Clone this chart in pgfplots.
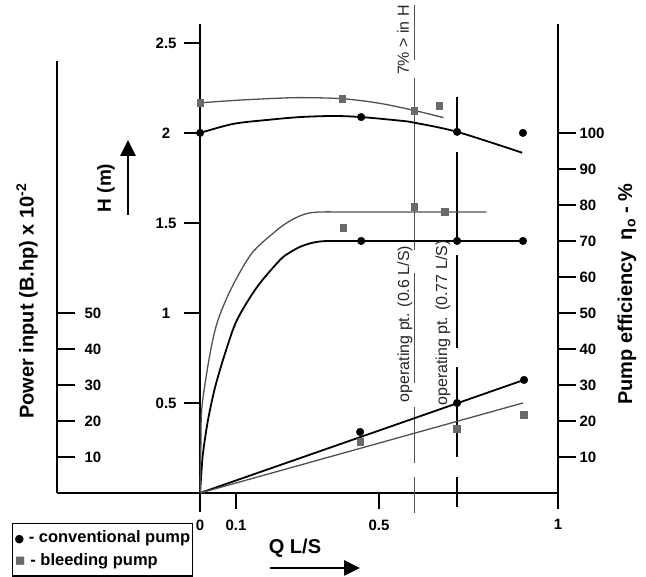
\documentclass[border=0pt]{standalone}
\usepackage{fontspec}
\setmainfont{Liberation Sans}
\newfontfamily\symfont{DejaVu Sans}
\usepackage{pgfplots}
\pgfplotsset{compat=1.18}
\usetikzlibrary{arrows.meta}
\definecolor{bleedline}{RGB}{80,80,80}
\definecolor{bleedmark}{RGB}{105,105,105}
\begin{document}
\begin{tikzpicture}
\pgfplotsset{
  base/.style={
    scale only axis, width=501pt, at={(0pt,0pt)}, anchor=south west,
    xmin=-0.4, xmax=1, ymin=0,
    /pgf/number format/assume math mode=true,
    every non boxed x axis/.append style={x axis line style={-}},
    every non boxed y axis/.append style={y axis line style={-}},
    axis line style={black, line width=1.4pt, -},
    tick style={black, line width=1.4pt},
    ticklabel style={font=\fontsize{15}{18}\selectfont\bfseries},
  },
}
% left power axis
\begin{axis}[base, height=432pt, ymax=2.4,
  axis x line=none, axis y line=left, xtick=\empty,
  ytick={0.2,0.4,0.6,0.8,1.0}, yticklabels={10,20,30,40,50},
  tick align=inside, major tick length=18pt,
  yticklabel style={anchor=west, xshift=24pt}]
\end{axis}
% right efficiency axis
\begin{axis}[base, height=469pt, ymax=2.605,
  axis x line=none, axis y line=right, xtick=\empty,
  ytick={0.2,0.4,0.6,0.8,1.0,1.2,1.4,1.6,1.8,2.0},
  yticklabels={10,20,30,40,50,60,70,80,90,100},
  tick align=outside, major tick length=18pt]
\end{axis}
% main axis
\begin{axis}[base, height=469pt, ymax=2.605, clip=false,
  axis x line=bottom, axis y line=center,
  xtick={0,0.1,0.5,1}, xticklabels={0,0.1,0.5,1},
  ytick={0.5,1,1.5,2,2.5}, yticklabels={0.5,1,1.5,2,2.5},
  tick align=outside, major tick length=16pt,
  xticklabel style={yshift=-7pt},
  yticklabel style={anchor=center, xshift=-18pt},
  unbounded coords=jump]
\draw[black, line width=1.4pt] (axis cs:0,0) -- (axis cs:0,-0.105);
% operating point lines
\addplot[bleedline, line width=1.2pt] coordinates {(0.598,2.711) (0.598,2.406) (0.598,nan) (0.598,2.306) (0.598,1.35) (0.598,nan) (0.598,1.222) (0.598,0.611) (0.598,nan) (0.598,0.478) (0.598,0.167) (0.598,nan) (0.598,0.089) (0.598,-0.111)};
\addplot[black, line width=1.4pt] coordinates {(0.718,2.2) (0.718,2.0) (0.718,nan) (0.718,1.894) (0.718,1.389) (0.718,nan) (0.718,1.322) (0.718,0.806) (0.718,nan) (0.718,0.7) (0.718,0.2) (0.718,nan) (0.718,0.089) (0.718,-0.078)};
% head curves
\addplot[black, line width=1.8pt, smooth] coordinates {(0,2.0) (0.092,2.05) (0.187,2.072) (0.279,2.088) (0.372,2.094) (0.45,2.088) (0.559,2.068) (0.598,2.057) (0.718,2.006) (0.90,1.89)};
\addplot[bleedline, line width=1.3pt, smooth] coordinates {(0,2.167) (0.092,2.18) (0.187,2.19) (0.279,2.196) (0.397,2.19) (0.5,2.165) (0.598,2.125) (0.68,2.085)};
% efficiency curves
\addplot[black, line width=1.8pt, smooth, tension=0.5] coordinates {(0,0) (0.003,0.1) (0.008,0.222) (0.022,0.406) (0.042,0.589) (0.07,0.778) (0.103,0.961) (0.159,1.144) (0.223,1.294) (0.25,1.335) (0.279,1.367) (0.31,1.388) (0.34,1.398) (0.38,1.40) (0.45,1.40) (0.55,1.40) (0.65,1.40) (0.718,1.40) (0.80,1.40) (0.90,1.40)};
\addplot[bleedline, line width=1.3pt, smooth, tension=0.5] coordinates {(0,0) (0.002,0.25) (0.005,0.478) (0.028,0.778) (0.05,0.961) (0.089,1.144) (0.145,1.333) (0.215,1.461) (0.25,1.51) (0.28,1.54) (0.307,1.556) (0.34,1.561) (0.40,1.561) (0.50,1.561) (0.60,1.561) (0.70,1.561) (0.80,1.561)};
% power lines
\addplot[black, line width=1.8pt] coordinates {(0,0) (0.905,0.628)};
\addplot[bleedline, line width=1.3pt] coordinates {(0,0) (0.902,0.5)};
% conventional pump points
\addplot[only marks, mark=*, mark size=3.8pt, black] coordinates {(0,2.0) (0.45,2.088) (0.718,2.006) (0.902,2.0)};
\addplot[only marks, mark=*, mark size=3.8pt, black] coordinates {(0.45,1.40) (0.718,1.40) (0.902,1.40)};
\addplot[only marks, mark=*, mark size=3.8pt, black] coordinates {(0.447,0.339) (0.718,0.5) (0.905,0.628)};
% bleeding pump points
\addplot[only marks, mark=square*, mark size=3.4pt, bleedmark] coordinates {(0,2.167) (0.397,2.19) (0.598,2.125) (0.668,2.15)};
\addplot[only marks, mark=square*, mark size=3.4pt, bleedmark] coordinates {(0.40,1.472) (0.598,1.589) (0.684,1.561)};
\addplot[only marks, mark=square*, mark size=3.4pt, bleedmark] coordinates {(0.447,0.283) (0.718,0.356) (0.905,0.433)};
\end{axis}
% labels
\node[rotate=90, font=\fontsize{20}{24}\selectfont\bfseries] at (-30pt,192pt) {Power input (B.hp) x 10\textsuperscript{-2}};
\node[rotate=90, font=\fontsize{19}{22}\selectfont\bfseries] at (49pt,305pt) {H (m)};
\draw[line width=2.6pt, -{Triangle[length=16pt,width=15pt]}] (71pt,278pt) -- (71pt,353pt);
\node[rotate=90, font=\fontsize{20}{24}\selectfont\bfseries] at (570pt,199pt) {Pump efficiency\ \ η\textsubscript{o} - \%};
\node[font=\fontsize{20}{24}\selectfont\bfseries] at (238pt,-55pt) {Q L/S};
\draw[line width=2.6pt, -{Triangle[length=16pt,width=15pt]}] (213pt,-75pt) -- (303pt,-75pt);
\node[rotate=90, font=\fontsize{16}{19}\selectfont, text=black!85] at (346pt,453pt) {7\% > in H};
\node[rotate=90, font=\fontsize{16}{19}\selectfont, text=black!85] at (348pt,169pt) {operating pt. (0.6 L/S)};
\node[rotate=90, font=\fontsize{16}{19}\selectfont, text=black!85] at (386pt,170pt) {operating pt. (0.77 L/S)};
\node[draw, line width=1.2pt, anchor=north west, align=left, inner xsep=2pt, inner ysep=7pt, font=\fontsize{16.5}{23}\selectfont\bfseries] at (-45pt,-30pt) {{\symfont\fontsize{11}{11}\selectfont ●} - conventional pump\\{\symfont\color{bleedmark}▪} - bleeding pump};
\pgfresetboundingbox
\path[use as bounding box] (-57pt,-84pt) rectangle (589pt,493pt);
\end{tikzpicture}
\end{document}
